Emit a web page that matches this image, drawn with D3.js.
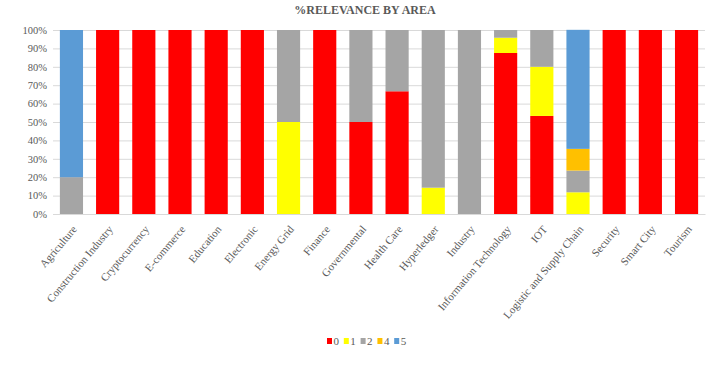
<!DOCTYPE html>
<html>
<head>
<meta charset="utf-8">
<script src="https://cdn.jsdelivr.net/npm/d3@7"></script>
<style>
	body { margin: 0; background: #fff; }
</style>
</head>
<body>
<div id="graphic"></div>
<script>
// categories along the x axis
const areas = ['Agriculture', 'Construction Industry', 'Cryptocurrency', 'E-commerce', 'Education',
	'Electronic', 'Energy Grid', 'Finance', 'Governmental', 'Health Care', 'Hyperledger', 'Industry',
	'Information Technology', 'IOT', 'Logistic and Supply Chain', 'Security', 'Smart City', 'Tourism'];

// share (%) of each relevance level per area
const level0 = [0, 100, 100, 100, 100, 100, 0, 100, 50, 66.7, 0, 0, 87.5, 53.3, 0, 100, 100, 100];
const level1 = [0, 0, 0, 0, 0, 0, 50, 0, 0, 0, 14.3, 0, 8.3, 26.7, 11.8, 0, 0, 0];
const level2 = [20, 0, 0, 0, 0, 0, 50, 0, 50, 33.3, 85.7, 100, 4.2, 20, 11.8, 0, 0, 0];
const level4 = [0, 0, 0, 0, 0, 0, 0, 0, 0, 0, 0, 0, 0, 0, 11.8, 0, 0, 0];
const level5 = [80, 0, 0, 0, 0, 0, 0, 0, 0, 0, 0, 0, 0, 0, 64.7, 0, 0, 0];

const levels = ['0', '1', '2', '4', '5'];
const yTicks = [0, 10, 20, 30, 40, 50, 60, 70, 80, 90, 100];
const colours = ['#ff0000', '#ffff00', '#a5a5a5', '#ffc000', '#5b9bd5'];
const serif = '"Liberation Serif", "Times New Roman", "DejaVu Serif", serif';

const seriesValues = [level0, level1, level2, level4, level5];
const tableData = areas.map((a, i) => {
	const row = { area: a };
	levels.forEach((l, j) => row[l] = seriesValues[j][i]);
	return row;
});

const width = 712, height = 376;
const margin = { top: 30, right: 7, bottom: 162, left: 53 };
const chartWidth = width - margin.left - margin.right;
const chartHeight = height - margin.top - margin.bottom;

const root = d3.select('#graphic').append('svg')
	.attr('width', width)
	.attr('height', height)
	.attr('font-family', serif);

const svg = root.append('g')
	.attr('transform', `translate(${margin.left},${margin.top})`);

const x = d3.scaleBand()
	.domain(areas)
	.range([0, chartWidth])
	.paddingInner(0.36)
	.paddingOuter(0.19);

const y = d3.scaleLinear()
	.domain([0, 100])
	.range([chartHeight, 0]);

// grid lines
svg.append('g')
	.attr('class', 'grid')
	.call(d3.axisLeft(y).tickValues(yTicks).tickSize(-chartWidth).tickFormat(''))
	.call(g => g.select('.domain').remove())
	.call(g => g.selectAll('line').attr('stroke', '#d9d9d9').attr('stroke-width', 1));

// stacked bars
const stacked = d3.stack().keys(levels)(tableData);

svg.append('g')
	.selectAll('g')
	.data(stacked)
	.join('g')
	.attr('fill', (d, i) => colours[i])
	.selectAll('rect')
	.data(d => d)
	.join('rect')
	.attr('x', d => x(d.data.area))
	.attr('y', d => y(d[1]))
	.attr('width', x.bandwidth())
	.attr('height', d => y(d[0]) - y(d[1]));

// y axis labels
svg.append('g')
	.attr('class', 'y axis')
	.call(d3.axisLeft(y).tickValues(yTicks).tickSize(0).tickPadding(6).tickFormat(d => d + '%'))
	.call(g => g.select('.domain').remove())
	.call(g => g.selectAll('text')
		.attr('font-family', serif)
		.attr('fill', '#595959')
		.style('font-size', '10.5px'));

// x axis
svg.append('g')
	.attr('class', 'x axis')
	.attr('transform', `translate(0,${chartHeight})`)
	.call(d3.axisBottom(x).tickSize(0).tickPadding(0))
	.call(g => g.select('.domain').attr('stroke', '#d9d9d9'))
	.call(g => g.selectAll('text')
		.attr('font-family', serif)
		.attr('fill', '#595959')
		.style('font-size', '11px')
		.attr('text-anchor', 'end')
		.attr('dy', '0.35em')
		.attr('transform', 'translate(3,13) rotate(-50)'));

// title
root.append('text')
	.attr('x', 365)
	.attr('y', 14)
	.attr('text-anchor', 'middle')
	.attr('fill', '#595959')
	.style('font-size', '12px')
	.style('font-weight', 'bold')
	.text('%RELEVANCE  BY AREA');

// legend
const legend = root.append('g')
	.attr('transform', 'translate(327,338)');

const item = legend.selectAll('g')
	.data(levels)
	.join('g')
	.attr('transform', (d, i) => `translate(${i * 16.8},0)`);

item.append('rect')
	.attr('width', 5)
	.attr('height', 6)
	.attr('fill', (d, i) => colours[i]);

item.append('text')
	.attr('x', 6.5)
	.attr('y', 6.5)
	.attr('fill', '#595959')
	.style('font-size', '11px')
	.text(d => d);
</script>
</body>
</html>
